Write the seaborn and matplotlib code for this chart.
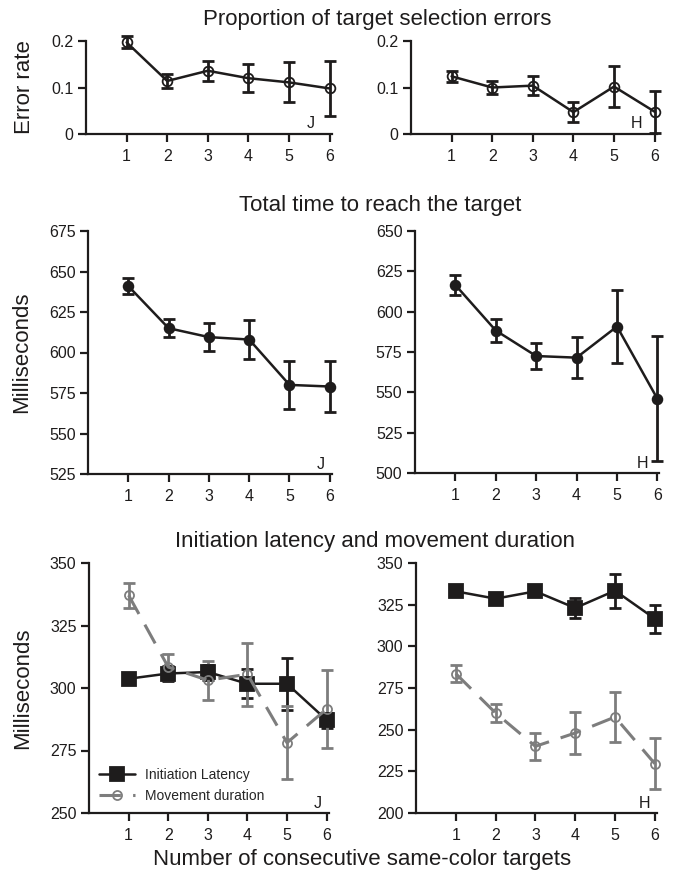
import numpy as np
import pandas as pd
import seaborn as sns
from matplotlib import pyplot as plt

# data
n_targets = [1, 2, 3, 4, 5, 6]

# proportion of target selection errors
err_J = [0.197, 0.114, 0.136, 0.120, 0.111, 0.098]
err_J_sem = [0.013, 0.014, 0.021, 0.030, 0.043, 0.060]
err_H = [0.124, 0.100, 0.104, 0.047, 0.102, 0.048]
err_H_sem = [0.012, 0.015, 0.021, 0.022, 0.044, 0.045]

# total time to reach the target (ms)
tot_J = [641.0, 615.0, 609.5, 608.0, 580.0, 579.0]
tot_J_sem = [5.0, 5.5, 8.6, 12.3, 14.6, 15.5]
tot_H = [616.5, 588.3, 572.5, 571.5, 590.8, 546.0]
tot_H_sem = [6.2, 7.2, 8.0, 12.7, 22.9, 38.8]

# initiation latency / movement duration (ms)
lat_J = [303.7, 305.8, 306.4, 301.7, 301.7, 287.2]
lat_J_sem = [2.0, 3.0, 3.0, 5.8, 10.4, 3.0]
mov_J = [337.1, 308.4, 303.1, 305.5, 278.1, 291.6]
mov_J_sem = [5.0, 5.2, 7.8, 12.7, 14.7, 15.5]
lat_H = [333.0, 328.6, 333.0, 323.0, 333.4, 316.6]
lat_H_sem = [2.0, 2.0, 2.0, 5.8, 10.3, 8.4]
mov_H = [283.6, 260.0, 240.0, 248.0, 257.6, 229.6]
mov_H_sem = [5.1, 5.3, 8.2, 12.5, 14.8, 15.3]

sns.set_style('ticks')
plt.rcParams['font.family'] = ['Liberation Sans', 'DejaVu Sans']

BLACK = '#1e1c1c'
GREY = '#7d7d7d'
W, H = 673, 876

fig = plt.figure(figsize=(W / 100, H / 100), dpi=100)


def box(left, unit, top, bottom):
    return [left / W, 1 - bottom / H, unit * 6.05 / W, (bottom - top) / H]


def style(ax, yticks, ylabels=None):
    sns.despine(ax=ax)
    for s in ['left', 'bottom']:
        ax.spines[s].set_linewidth(1.6)
        ax.spines[s].set_color(BLACK)
    ax.set_xlim(0, 6.05)
    ax.set_ylim(yticks[0], yticks[-1])
    ax.set_xticks(n_targets)
    ax.set_yticks(yticks)
    if ylabels is not None:
        ax.set_yticklabels(ylabels)
    ax.tick_params(direction='out', length=6, width=1.6, color=BLACK,
                   labelsize=11.5, labelcolor=BLACK, pad=3)
    ax.tick_params(axis='x', pad=5)
    ax.set_xlabel('')
    ax.set_ylabel('')


def series(ax, y, yerr, color, marker, ms, mfc, dashed=False, lw=1.8):
    df = pd.DataFrame({'n': n_targets, 'v': y})
    eb = ax.errorbar(n_targets, y, yerr=yerr, fmt='none', ecolor=color,
                     elinewidth=2.0, capsize=4.5, capthick=2.0, zorder=3)
    for art in eb.lines[1] + eb.lines[2]:
        art.set_clip_on(False)
    kw = dict(dashes=(7, 4)) if dashed else {}
    sns.lineplot(data=df, x='n', y='v', ax=ax, color=color, lw=lw,
                 marker=marker, markersize=ms, markerfacecolor=mfc,
                 markeredgecolor=color, markeredgewidth=1.3, zorder=4,
                 clip_on=False, **kw)
    return ax.lines[-1]


def tag(ax, txt, x, y):
    ax.text(x, y, txt, transform=ax.transAxes, ha='center', va='bottom',
            fontsize=11.5, color=BLACK)


# row 1
axA = fig.add_axes(box(86, 40.6, 41, 134))
series(axA, err_J, err_J_sem, BLACK, 'o', 7, 'none')
style(axA, [0, 0.1, 0.2], ['0', '0.1', '0.2'])
tag(axA, 'J', 0.915, 0.03)
axA.set_ylabel('Error rate', fontsize=16, color=BLACK, labelpad=12)

axB = fig.add_axes(box(411, 40.6, 41, 134))
series(axB, err_H, err_H_sem, BLACK, 'o', 7, 'none')
style(axB, [0, 0.1, 0.2], ['0', '0.1', '0.2'])
tag(axB, 'H', 0.92, 0.03)

# row 2
axC = fig.add_axes(box(88, 40.3, 231, 474))
series(axC, tot_J, tot_J_sem, BLACK, 'o', 7, BLACK)
style(axC, list(range(525, 676, 25)))
tag(axC, 'J', 0.955, 0.01)
axC.set_ylabel('Milliseconds', fontsize=16, color=BLACK, labelpad=12)

axD = fig.add_axes(box(415, 40.4, 231, 473))
series(axD, tot_H, tot_H_sem, BLACK, 'o', 7, BLACK)
style(axD, list(range(500, 651, 25)))
tag(axD, 'H', 0.93, 0.01)

# row 3
axE = fig.add_axes(box(89, 39.6, 563, 813))
h_lat = series(axE, lat_J, lat_J_sem, BLACK, 's', 9.5, BLACK)
h_mov = series(axE, mov_J, mov_J_sem, GREY, 'o', 6.5, 'none', dashed=True, lw=2.2)
style(axE, list(range(250, 351, 25)))
tag(axE, 'J', 0.955, 0.01)
axE.set_ylabel('Milliseconds', fontsize=16, color=BLACK, labelpad=12)
axE.legend([h_lat, h_mov], ['Initiation Latency', 'Movement duration'],
           loc='lower left', bbox_to_anchor=(0.0, 0.0), frameon=False,
           fontsize=10, handlelength=2.6, handletextpad=0.7, borderaxespad=0.3,
           labelspacing=0.55)

axF = fig.add_axes(box(416, 39.8, 563, 813))
series(axF, lat_H, lat_H_sem, BLACK, 's', 9.5, BLACK)
series(axF, mov_H, mov_H_sem, GREY, 'o', 6.5, 'none', dashed=True, lw=2.2)
style(axF, list(range(200, 351, 25)))
tag(axF, 'H', 0.95, 0.01)

# row titles and shared x label
fig.text(377 / W, 1 - 20 / H, 'Proportion of target selection errors',
         ha='center', va='center', fontsize=16, color=BLACK)
fig.text(380 / W, 1 - 205 / H, 'Total time to reach the target',
         ha='center', va='center', fontsize=16, color=BLACK)
fig.text(375 / W, 1 - 541 / H, 'Initiation latency and movement duration',
         ha='center', va='center', fontsize=16, color=BLACK)
fig.text(362 / W, 1 - 860 / H, 'Number of consecutive same-color targets',
         ha='center', va='center', fontsize=16, color=BLACK)

fig.savefig('out.png', dpi=100)
